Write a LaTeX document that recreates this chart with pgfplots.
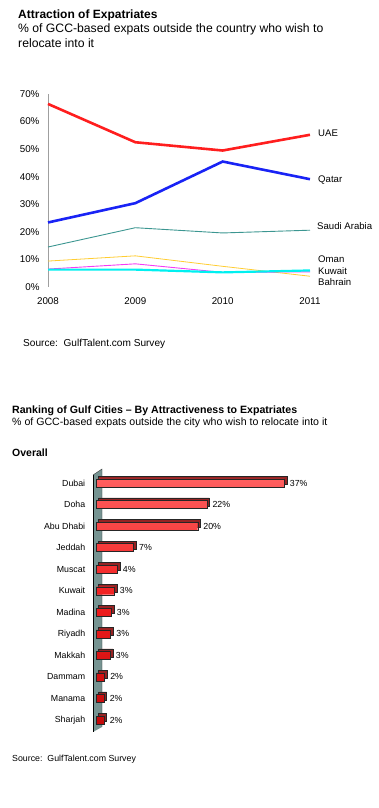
\documentclass[border=0pt]{standalone}
\usepackage{pgfplots}
\pgfplotsset{compat=1.18}
\usepackage{pgfplotstable}
\usepackage{fontspec}
\setmainfont{Liberation Sans}
\definecolor{uaered}{RGB}{255,30,30}
\definecolor{qatarblue}{RGB}{25,35,245}
\definecolor{sauditeal}{RGB}{60,150,145}
\definecolor{lyellow}{RGB}{255,205,50}
\definecolor{lmagenta}{RGB}{245,60,245}
\definecolor{lcyan}{RGB}{0,240,240}
\definecolor{wallcol}{RGB}{118,148,146}
\definecolor{barback}{RGB}{150,35,35}
\definecolor{bartop}{RGB}{255,95,95}
\definecolor{barmid}{RGB}{240,30,30}
\definecolor{barbot}{RGB}{195,10,10}

\pgfplotstableread{
year UAE Qatar Saudi yel mag cya
2008 66.4 23.4 14.5 9.4 6.5 6.3
2009 52.5 30.4 21.5 11.3 8.4 6.3
2010 49.5 45.5 19.6 7.5 5.3 5.3
2011 55.2 39.1 20.6 3.9 5.5 6.0
}\linedata

\pgfplotstableread{
idx value label
1 37.2 37
2 21.9 22
3 20.1 20
4 7.4 7
5 4.2 4
6 3.6 3
7 3.0 3
8 2.9 3
9 2.8 3
10 1.7 2
11 1.6 2
12 1.6 2
}\bardata

\begin{document}
\begin{tikzpicture}[x=1pt,y=1pt]
\useasboundingbox (0,0) rectangle (379,808);
% ---------- top chart titles ----------
\node[anchor=base west, inner sep=0, font=\fontsize{12}{14}\selectfont\bfseries] at (18,789.7) {Attraction of Expatriates};
\node[anchor=base west, inner sep=0, font=\fontsize{12.2}{14}\selectfont] at (18,775.7) {\% of GCC-based expats outside the country who wish to};
\node[anchor=base west, inner sep=0, font=\fontsize{12.2}{14}\selectfont] at (18,760.3) {relocate into it};

\begin{axis}[
  at={(48pt,521pt)}, anchor=south west, scale only axis,
  width=262pt, height=193pt,
  xmin=2008, xmax=2011, ymin=0, ymax=70,
  axis lines*=left, axis line style={-},
  x axis line style={draw=none},
  y axis line style={draw=gray!75, line width=0.8pt},
  tick style={draw=none},
  xtick={2008,2009,2010,2011},
  xticklabels={2008,2009,2010,2011},
  ytick={0,10,20,30,40,50,60,70},
  yticklabels={0\%,10\%,20\%,30\%,40\%,50\%,60\%,70\%},
  ticklabel style={font=\fontsize{9.8}{11}\selectfont},
  xticklabel style={yshift=-7pt},
  yticklabel style={xshift=-5pt},
  clip=false,
]
\addplot[lyellow, line width=0.8pt] table[x=year,y=yel] {\linedata};
\addplot[lmagenta, line width=0.9pt] table[x=year,y=mag] {\linedata};
\addplot[lcyan, line width=2.2pt] table[x=year,y=cya] {\linedata};
\addplot[sauditeal, line width=0.9pt] table[x=year,y=Saudi] {\linedata};
\addplot[qatarblue, line width=2.6pt] table[x=year,y=Qatar] {\linedata};
\addplot[uaered, line width=2.6pt] table[x=year,y=UAE] {\linedata};
\end{axis}

\begin{scope}[every node/.style={anchor=base west, inner sep=0, font=\fontsize{9.6}{11}\selectfont}]
\node at (318,671.5) {UAE};
\node at (318,625.5) {Qatar};
\node at (317,578.5) {Saudi Arabia};
\node at (318,545.5) {Oman};
\node at (318,533.5) {Kuwait};
\node at (318,522.5) {Bahrain};
\end{scope}

\node[anchor=base west, inner sep=0, font=\fontsize{10.1}{12}\selectfont] at (23,461) {Source:\ \ GulfTalent.com Survey};

% ---------- bottom chart titles ----------
\node[anchor=base west, inner sep=0, font=\fontsize{10.6}{13}\selectfont\bfseries] at (12,394) {Ranking of Gulf Cities -- By Attractiveness to Expatriates};
\node[anchor=base west, inner sep=0, font=\fontsize{10.6}{13}\selectfont] at (12,382) {\% of GCC-based expats outside the city who wish to relocate into it};
\node[anchor=base west, inner sep=0, font=\fontsize{10.5}{12}\selectfont\bfseries] at (12,351) {Overall};

% wall
\fill[wallcol] (93,333) -- (102,339) -- (102,81) -- (93,76) -- cycle;
\draw[black!80, line width=0.4pt] (93,333) -- (102,339) -- (102,81);
\draw[black, line width=1pt] (93,333) -- (93,76);

\begin{axis}[
  at={(96pt,77.2pt)}, anchor=south west, scale only axis,
  width=253pt, height=258.6pt,
  xmin=0, xmax=50, ymin=0.5, ymax=12.5, y dir=reverse,
  hide x axis, axis y line*=left, y axis line style={draw=none},
  ytick={1,...,12},
  yticklabels={Dubai,Doha,Abu Dhabi,Jeddah,Muscat,Kuwait,Madina,Riyadh,Makkah,Dammam,Manama,Sharjah},
  yticklabel style={font=\fontsize{8.8}{10}\selectfont, xshift=-3pt},
  ytick style={draw=none},
  xbar, bar width=8pt, clip=false,
]
\addplot[draw=black!85, line width=0.4pt, fill=barback, xshift=2.6pt, bar shift=2.6pt] table[x=value,y=idx] {\bardata};
\addplot[draw=black!85, line width=0.4pt, top color=bartop, bottom color=barbot, middle color=barmid,
  bar shift=0pt,
  point meta=explicit symbolic,
  nodes near coords={\pgfplotspointmeta\%},
  nodes near coords style={font=\fontsize{8.8}{10}\selectfont, anchor=west, xshift=5pt, inner sep=0.5pt}]
  table[x=value,y=idx,meta=label] {\bardata};
\end{axis}

\node[anchor=base west, inner sep=0, font=\fontsize{8.8}{11}\selectfont] at (12,46) {Source:\ \ GulfTalent.com Survey};
\end{tikzpicture}
\end{document}
